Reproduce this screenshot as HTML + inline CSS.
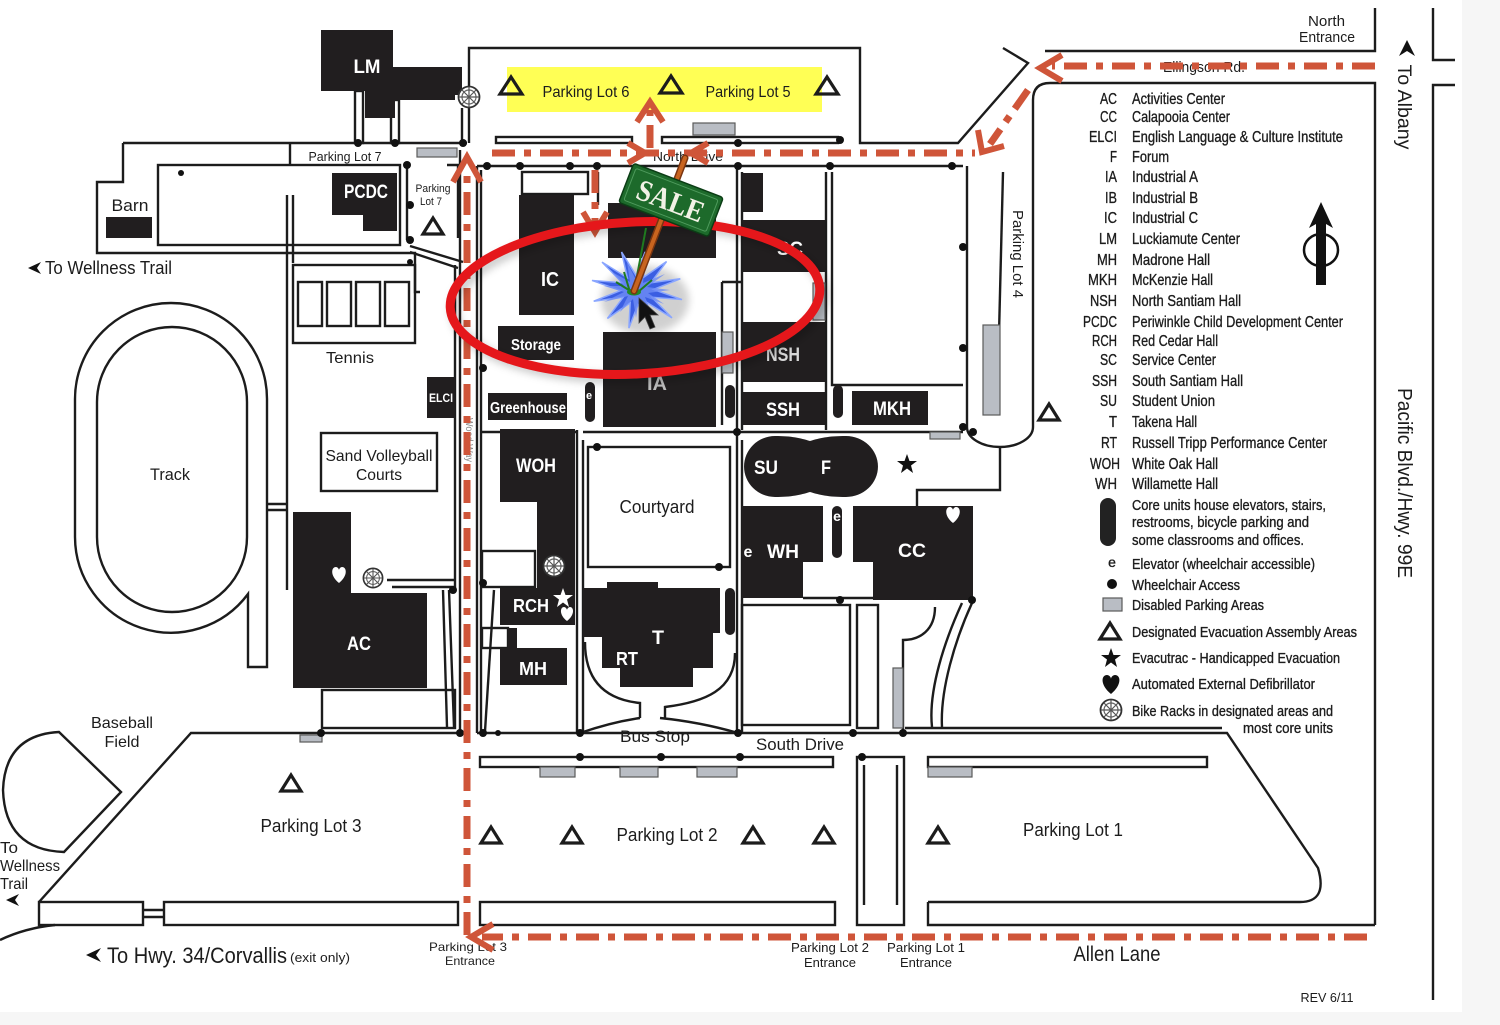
<!DOCTYPE html>
<html><head><meta charset="utf-8"><style>
html,body{margin:0;padding:0;background:#fff;}
svg{display:block;}
text{font-family:"Liberation Sans",Arial,sans-serif;}
.m{fill:#1c1c1c;}
.w{fill:#fff;font-weight:bold;}
.ln{stroke:#1c1c1c;stroke-width:2.4;fill:none;}
.bk{fill:#211e1f;}
.gr{fill:#b9bdc4;stroke:#5a5a5a;stroke-width:1.2;}
.tri{fill:none;stroke:#1c1c1c;stroke-width:3.2;stroke-linejoin:miter;}
.rd{stroke:#cf5539;stroke-width:7;fill:none;stroke-dasharray:23 9 7 9;}
.ra{stroke:#cf5539;stroke-width:6;fill:none;stroke-linejoin:miter;}
.lg text{stroke:#1c1c1c;stroke-width:0.35;}
</style></head><body>
<svg width="1500" height="1025" viewBox="0 0 1500 1025" xmlns="http://www.w3.org/2000/svg">
<defs>
<filter id="blur" x="-30%" y="-30%" width="160%" height="160%"><feGaussianBlur stdDeviation="4"/></filter>
<symbol id="bike" viewBox="-12 -12 24 24"><circle r="10.5" fill="#fff" stroke="#333" stroke-width="1.8"/><circle r="7" fill="none" stroke="#666" stroke-width="1.2"/><path d="M-10,0H10M0,-10V10M-7,-7L7,7M-7,7L7,-7" stroke="#555" stroke-width="1.2"/></symbol>
</defs>
<rect width="1500" height="1025" fill="#fff"/>
<rect x="1462" y="0" width="38" height="1025" fill="#f6f6f6"/>
<rect x="0" y="1012" width="1500" height="13" fill="#f6f6f6"/>

<g class="ln">
<path d="M123,143 H467"/>
<path d="M123,143 V182 H97 V253 H415 V292 H420"/>
<path d="M290,143 V165"/>
<rect x="158" y="165" width="242" height="80"/>
<path d="M407,165 V240"/>
<path d="M410,246 L463,262 M410,252 L458,268"/>
<path d="M447,165 H458 V238"/>
<path d="M287,195 V590 M293,195 V263"/>
<rect x="293" y="265" width="122" height="78"/>
<rect x="298" y="282" width="24" height="44"/>
<rect x="327" y="282" width="24" height="44"/>
<rect x="356" y="282" width="24" height="44"/>
<rect x="385" y="282" width="24" height="44"/>
<rect x="355" y="91" width="8" height="52" fill="#fff"/>
<rect x="391" y="100" width="8" height="43" fill="#fff"/>
<path d="M462,108 V143"/>
<path d="M460,150 V733"/>
<path d="M477,166 V733"/>
<path d="M455,265 V590"/>
<path d="M248,594 A96,96 0 0 1 75,537 V399 A96,96 0 0 1 267,399 V667 H248 Z"/>
<path d="M97,402 A75,75 0 0 1 247,402 V537 A75,75 0 0 1 97,537 Z"/>
<path d="M267,504 H287 M267,510 H287"/>
<rect x="321" y="433" width="116" height="58"/>
<path d="M387,580 H455 M392,587 H455"/>
<path d="M449,590 L454,727 M443,590 L447,727"/>
<rect x="322" y="690" width="133" height="38"/>
<path d="M59,732 L121,792 L64,852 Q5,850 3,790 Q5,735 59,732 Z"/>
<path d="M462,733 H191 L39,902"/>
<rect x="39" y="902" width="104" height="23"/>
<rect x="164" y="902" width="294" height="23"/>
<path d="M143,910 H164 M143,917 H164"/>
<path d="M0,940 Q25,928 55,925"/>
<path d="M469,143 V48 H860 V143 H958 L1028,63 L1003,48"/>
<rect x="496" y="137" width="136" height="6"/>
<rect x="662" y="137" width="176" height="6"/>
<path d="M477,166 H963"/>
<rect x="522" y="172" width="66" height="22"/>
<path d="M481,170 V733"/>
<path d="M598,172 V205"/>
<path d="M577,430 V733 M583,440 V733"/>
<path d="M737,166 V733 M742,172 V430"/>
<path d="M826,172 V430 M832,172 V385 H963"/>
<path d="M722,282 H742 M722,282 V425"/>
<path d="M481,432 H577 M583,432 H963"/>
<path d="M742,440 V733"/>
<rect x="588" y="447" width="142" height="120"/>
<rect x="482" y="551" width="53" height="36"/>
<rect x="482" y="628" width="26" height="20"/>
<path d="M494,590 L485,731"/>
<rect x="742" y="605" width="108" height="120"/>
<rect x="857" y="605" width="21" height="123"/>
<path d="M803,598 H873"/>
<path d="M585,642 C585,685 610,700 640,703 V718 M735,653 C735,690 705,702 665,707 V718"/>
<path d="M580,733 Q612,722 640,718 M738,733 Q700,722 660,718"/>
<path d="M477,733 H905"/>
<path d="M905,728 H1222 M905,733 H1227 L1318,868 Q1328,902 1300,902 H928"/>
<rect x="480" y="757" width="353" height="10"/>
<rect x="480" y="902" width="355" height="23"/>
<rect x="857" y="757" width="47" height="168"/>
<path d="M864,765 V905 M897,765 V905"/>
<rect x="928" y="757" width="279" height="10"/>
<path d="M928,902 V925 H1375"/>
<path d="M962,603 C945,640 928,690 932,727 M972,603 C955,640 940,690 942,727"/>
<path d="M935,607 C935,630 920,640 903,640 V733"/>
<path d="M1045,51 H1375 V8"/>
<path d="M1050,83 H1375 V925"/>
<path d="M1050,83 Q1033,83 1033,100 V427 A33,20 0 0 1 967,427 V166"/>
<path d="M1000,447 V490 H917 V506"/>
<path d="M1003,172 L997,415"/>
<path d="M1433,8 V60 H1455 M1455,85 H1433 V1000"/>
</g>

<g class="gr">
<rect x="693" y="123" width="42" height="12"/>
<rect x="417" y="148" width="40" height="9"/>
<rect x="300" y="735" width="22" height="7"/>
<rect x="540" y="767" width="35" height="10"/>
<rect x="620" y="767" width="38" height="10"/>
<rect x="697" y="767" width="40" height="10"/>
<rect x="928" y="767" width="44" height="10"/>
<rect x="930" y="432" width="30" height="7"/>
<rect x="983" y="325" width="17" height="90"/>
<rect x="813" y="283" width="12" height="37"/>
<rect x="893" y="668" width="10" height="60"/>
<rect x="722" y="332" width="11" height="41"/>
<rect x="1103" y="598" width="19" height="13"/>
</g>

<g class="bk">
<path d="M321,30 H393 V67 H462 V95 H455 V100 H395 V118 H365 V91 H321 Z"/>
<path d="M332,173 H397 V231 H363 V215 H332 Z"/>
<rect x="106" y="217" width="46" height="21"/>
<rect x="427" y="377" width="28" height="41"/>
<path d="M293,512 H351 V593 H427 V688 H293 Z"/>
<rect x="519" y="195" width="55" height="120"/>
<rect x="498" y="326" width="76" height="34"/>
<rect x="488" y="393" width="79" height="27"/>
<rect x="608" y="203" width="108" height="55"/>
<rect x="603" y="332" width="113" height="95"/>
<rect x="743" y="220" width="82" height="52"/>
<rect x="743" y="173" width="20" height="39"/>
<rect x="743" y="322" width="82" height="60"/>
<rect x="743" y="392" width="82" height="33"/>
<rect x="852" y="391" width="76" height="34"/>
<rect x="725" y="385" width="10" height="33" rx="5"/>
<rect x="833" y="385" width="10" height="33" rx="5"/>
<rect x="585" y="382" width="10" height="40" rx="5"/>
<path d="M500,429 H575 V625 H500 V588 H537 V502 H500 Z"/>
<rect x="500" y="648" width="67" height="37"/>
<rect x="508" y="628" width="9" height="20"/>
<path d="M775,436 C792,436 800,438 810,441 C820,438 828,436 846,436 A32,30.5 0 0 1 846,497 C828,497 820,495 810,492 C800,495 792,497 775,497 A31,30.5 0 0 1 775,436 Z"/>
<path d="M742,506 H823 V562 H803 V598 H742 Z"/>
<rect x="832" y="506" width="10" height="52" rx="5"/>
<path d="M853,506 H973 V600 H873 V562 H853 Z"/>
<path d="M583,588 H607 V582 H658 V588 H720 V633 H713 V668 H693 V687 H620 V668 H602 V637 H583 Z"/>
<rect x="725" y="588" width="10" height="47" rx="5"/>
</g>

<g fill="#111">
<circle cx="463" cy="143" r="4"/><circle cx="358" cy="143" r="4"/><circle cx="395" cy="143" r="4"/>
<circle cx="407" cy="165" r="4"/><circle cx="410" cy="205" r="4"/><circle cx="410" cy="240" r="4"/>
<circle cx="487" cy="166" r="4"/><circle cx="520" cy="166" r="4"/><circle cx="570" cy="166" r="4"/>
<circle cx="597" cy="166" r="4"/><circle cx="738" cy="143" r="4"/><circle cx="738" cy="166" r="4"/>
<circle cx="840" cy="140" r="4"/><circle cx="830" cy="166" r="4"/><circle cx="952" cy="166" r="4"/>
<circle cx="963" cy="247" r="4"/><circle cx="963" cy="348" r="4"/><circle cx="963" cy="427" r="4"/>
<circle cx="973" cy="432" r="4"/><circle cx="483" cy="368" r="4"/><circle cx="483" cy="583" r="4"/>
<circle cx="483" cy="733" r="4"/><circle cx="580" cy="733" r="4"/><circle cx="738" cy="733" r="4"/>
<circle cx="853" cy="733" r="4"/><circle cx="903" cy="733" r="4"/><circle cx="580" cy="757" r="4"/>
<circle cx="661" cy="757" r="4"/><circle cx="740" cy="757" r="4"/><circle cx="862" cy="757" r="4"/>
<circle cx="597" cy="447" r="4"/><circle cx="719" cy="567" r="4"/><circle cx="737" cy="432" r="4"/>
<circle cx="453" cy="590" r="4"/><circle cx="840" cy="600" r="4"/><circle cx="972" cy="600" r="4"/>
<circle cx="321" cy="733" r="4"/><circle cx="460" cy="733" r="4"/><circle cx="498" cy="733" r="3"/>
<circle cx="181" cy="173" r="3"/><circle cx="410" cy="262" r="3"/>
</g>

<g class="tri">
<path d="M423,234 L433,218 L443,234 Z"/><path d="M1039,420 L1049,404 L1059,420 Z"/>
<path d="M281,791 L291,775 L301,791 Z"/><path d="M481,843 L491,827 L501,843 Z"/>
<path d="M562,843 L572,827 L582,843 Z"/><path d="M743,843 L753,827 L763,843 Z"/>
<path d="M814,843 L824,827 L834,843 Z"/><path d="M928,843 L938,827 L948,843 Z"/>
<path d="M1100,639 L1110,623 L1120,639 Z"/>
</g>

<rect x="507" y="67" width="315" height="45" fill="#ffff55"/>
<g class="tri">
<path d="M500,94 L511,77 L522,94 Z"/><path d="M660,93 L671,76 L682,93 Z"/><path d="M816,94 L827,77 L838,94 Z"/>
</g>

<use href="#bike" x="457" y="85" width="24" height="24"/>
<use href="#bike" x="362" y="567" width="22" height="22"/>
<use href="#bike" x="542" y="554" width="24" height="24"/>
<use href="#bike" x="1099" y="698" width="24" height="24"/>

<g>
<path d="M907,454 L909.5,461 L917,461 L911,465.5 L913,473 L907,468.5 L901,473 L903,465.5 L897,461 L904.5,461 Z" fill="#111"/>
<path d="M1111,648 L1113.5,655 L1121,655 L1115,659.5 L1117,667 L1111,662.5 L1105,667 L1107,659.5 L1101,655 L1108.5,655 Z" fill="#111"/>
<path d="M563,588 L565.5,595 L573,595 L567,599.5 L569,607 L563,602.5 L557,607 L559,599.5 L553,595 L560.5,595 Z" fill="#fff"/>
<path d="M1111,694 C1100,685 1101,675 1107,675 C1109,675 1111,677 1111,679 C1111,677 1113,675 1115,675 C1121,675 1122,685 1111,694 Z" fill="#111"/>
<path d="M339,583 C330,576 331,567 336,567 C337.5,567 339,569 339,570 C339,569 340.5,567 342,567 C347,567 348,576 339,583 Z" fill="#fff"/>
<path d="M953,523 C944,516 945,507 950,507 C951.5,507 953,509 953,510 C953,509 954.5,507 956,507 C961,507 962,516 953,523 Z" fill="#fff"/>
<path d="M567,621 C559,615 560,607 564,607 C565.5,607 567,609 567,610 C567,609 568.5,607 570,607 C574,607 575,615 567,621 Z" fill="#fff"/>
</g>

<g class="m">
<text x="130" y="211" font-size="17" text-anchor="middle" textLength="37" lengthAdjust="spacingAndGlyphs">Barn</text>
<text x="345" y="161" font-size="13" text-anchor="middle" textLength="73" lengthAdjust="spacingAndGlyphs">Parking Lot 7</text>
<text x="433" y="192" font-size="11" text-anchor="middle" textLength="35" lengthAdjust="spacingAndGlyphs">Parking</text>
<text x="431" y="205" font-size="11" text-anchor="middle" textLength="22" lengthAdjust="spacingAndGlyphs">Lot 7</text>
<path d="M28,268 L41,262 L37,268 L41,274 Z" fill="#111"/>
<text x="45" y="274" font-size="18" textLength="127" lengthAdjust="spacingAndGlyphs">To Wellness Trail</text>
<text x="350" y="363" font-size="16" text-anchor="middle" textLength="48" lengthAdjust="spacingAndGlyphs">Tennis</text>
<text x="170" y="480" font-size="17" text-anchor="middle" textLength="40" lengthAdjust="spacingAndGlyphs">Track</text>
<text x="379" y="461" font-size="16" text-anchor="middle" textLength="107" lengthAdjust="spacingAndGlyphs">Sand Volleyball</text>
<text x="379" y="480" font-size="16" text-anchor="middle" textLength="46" lengthAdjust="spacingAndGlyphs">Courts</text>
<text x="122" y="728" font-size="16" text-anchor="middle" textLength="62" lengthAdjust="spacingAndGlyphs">Baseball</text>
<text x="122" y="747" font-size="16" text-anchor="middle" textLength="35" lengthAdjust="spacingAndGlyphs">Field</text>
<text x="0" y="853" font-size="16" textLength="18" lengthAdjust="spacingAndGlyphs">To</text>
<text x="0" y="871" font-size="16" textLength="60" lengthAdjust="spacingAndGlyphs">Wellness</text>
<text x="0" y="889" font-size="16" textLength="28" lengthAdjust="spacingAndGlyphs">Trail</text>
<path d="M6,900 L19,894 L15,900 L19,906 Z" fill="#111"/>
<text x="311" y="832" font-size="18" text-anchor="middle" textLength="101" lengthAdjust="spacingAndGlyphs">Parking Lot 3</text>
<path d="M86,955 L101,948 L96,955 L101,962 Z" fill="#111"/>
<text x="107" y="963" font-size="22" textLength="180" lengthAdjust="spacingAndGlyphs">To Hwy. 34/Corvallis</text>
<text x="290" y="962" font-size="13" textLength="60" lengthAdjust="spacingAndGlyphs">(exit only)</text>
<text x="468" y="951" font-size="12" text-anchor="middle" textLength="78" lengthAdjust="spacingAndGlyphs">Parking Lot 3</text>
<text x="470" y="965" font-size="12" text-anchor="middle" textLength="50" lengthAdjust="spacingAndGlyphs">Entrance</text>
<text x="586" y="97" font-size="16" text-anchor="middle" textLength="87" lengthAdjust="spacingAndGlyphs">Parking Lot 6</text>
<text x="748" y="97" font-size="16" text-anchor="middle" textLength="85" lengthAdjust="spacingAndGlyphs">Parking Lot 5</text>
<text x="688" y="161" font-size="13" text-anchor="middle" textLength="70" lengthAdjust="spacingAndGlyphs">North Drive</text>
<text x="657" y="513" font-size="18" text-anchor="middle" textLength="75" lengthAdjust="spacingAndGlyphs">Courtyard</text>
<text x="655" y="742" font-size="17" text-anchor="middle" textLength="70" lengthAdjust="spacingAndGlyphs">Bus Stop</text>
<text x="800" y="750" font-size="17" text-anchor="middle" textLength="88" lengthAdjust="spacingAndGlyphs">South Drive</text>
<text x="667" y="841" font-size="18" text-anchor="middle" textLength="101" lengthAdjust="spacingAndGlyphs">Parking Lot 2</text>
<text x="1073" y="836" font-size="18" text-anchor="middle" textLength="100" lengthAdjust="spacingAndGlyphs">Parking Lot 1</text>
<text x="830" y="952" font-size="13" text-anchor="middle" textLength="78" lengthAdjust="spacingAndGlyphs">Parking Lot 2</text>
<text x="830" y="967" font-size="13" text-anchor="middle" textLength="52" lengthAdjust="spacingAndGlyphs">Entrance</text>
<text x="926" y="952" font-size="13" text-anchor="middle" textLength="78" lengthAdjust="spacingAndGlyphs">Parking Lot 1</text>
<text x="926" y="967" font-size="13" text-anchor="middle" textLength="52" lengthAdjust="spacingAndGlyphs">Entrance</text>
<text x="1117" y="961" font-size="21" text-anchor="middle" textLength="87" lengthAdjust="spacingAndGlyphs">Allen Lane</text>
<text x="1327" y="1002" font-size="13" text-anchor="middle" textLength="53" lengthAdjust="spacingAndGlyphs">REV 6/11</text>
<text x="1345" y="26" font-size="15" text-anchor="end" textLength="37" lengthAdjust="spacingAndGlyphs">North</text>
<text x="1355" y="42" font-size="15" text-anchor="end" textLength="56" lengthAdjust="spacingAndGlyphs">Entrance</text>
<text x="1204" y="72" font-size="15" text-anchor="middle" textLength="82" lengthAdjust="spacingAndGlyphs">Ellingson Rd.</text>
<text transform="translate(1013,254) rotate(90)" font-size="15" text-anchor="middle" textLength="88" lengthAdjust="spacingAndGlyphs">Parking Lot 4</text>
<text transform="translate(1398,107) rotate(90)" font-size="19" text-anchor="middle" textLength="85" lengthAdjust="spacingAndGlyphs">To Albany</text>
<path d="M1407,40 L1399,56 L1407,51 L1415,56 Z" fill="#111"/>
<text transform="translate(1398,483) rotate(90)" font-size="20" text-anchor="middle" textLength="190" lengthAdjust="spacingAndGlyphs">Pacific Blvd./Hwy. 99E</text>
<text transform="translate(466,440) rotate(90)" font-size="10" text-anchor="middle" fill="#888" textLength="44" lengthAdjust="spacingAndGlyphs">Wood Way</text>
</g>

<g class="w">
<text x="367" y="73" font-size="19" text-anchor="middle" textLength="27" lengthAdjust="spacingAndGlyphs">LM</text>
<text x="366" y="198" font-size="19" text-anchor="middle" textLength="44" lengthAdjust="spacingAndGlyphs">PCDC</text>
<text x="441" y="402" font-size="12" text-anchor="middle" textLength="24" lengthAdjust="spacingAndGlyphs">ELCI</text>
<text x="359" y="650" font-size="19" text-anchor="middle" textLength="24" lengthAdjust="spacingAndGlyphs">AC</text>
<text x="550" y="286" font-size="20" text-anchor="middle" textLength="18" lengthAdjust="spacingAndGlyphs">IC</text>
<text x="536" y="350" font-size="16" text-anchor="middle" textLength="50" lengthAdjust="spacingAndGlyphs">Storage</text>
<text x="528" y="413" font-size="16" text-anchor="middle" textLength="76" lengthAdjust="spacingAndGlyphs">Greenhouse</text>
<text x="790" y="255" font-size="19" text-anchor="middle" textLength="26" lengthAdjust="spacingAndGlyphs">SC</text>
<text x="657" y="390" font-size="19" text-anchor="middle" textLength="20" lengthAdjust="spacingAndGlyphs" style="fill:#bdbdbd">IA</text>
<text x="783" y="361" font-size="19" text-anchor="middle" textLength="34" lengthAdjust="spacingAndGlyphs" style="fill:#d8d8d8">NSH</text>
<text x="783" y="416" font-size="19" text-anchor="middle" textLength="34" lengthAdjust="spacingAndGlyphs">SSH</text>
<text x="892" y="415" font-size="19" text-anchor="middle" textLength="38" lengthAdjust="spacingAndGlyphs">MKH</text>
<text x="589" y="399" font-size="11" text-anchor="middle">e</text>
<text x="536" y="472" font-size="19" text-anchor="middle" textLength="40" lengthAdjust="spacingAndGlyphs">WOH</text>
<text x="531" y="612" font-size="18" text-anchor="middle" textLength="36" lengthAdjust="spacingAndGlyphs">RCH</text>
<text x="533" y="675" font-size="18" text-anchor="middle" textLength="28" lengthAdjust="spacingAndGlyphs">MH</text>
<text x="658" y="644" font-size="19" text-anchor="middle" textLength="12" lengthAdjust="spacingAndGlyphs">T</text>
<text x="627" y="665" font-size="18" text-anchor="middle" textLength="22" lengthAdjust="spacingAndGlyphs">RT</text>
<text x="766" y="474" font-size="19" text-anchor="middle" textLength="24" lengthAdjust="spacingAndGlyphs">SU</text>
<text x="826" y="474" font-size="19" text-anchor="middle" textLength="10" lengthAdjust="spacingAndGlyphs">F</text>
<text x="748" y="557" font-size="16" text-anchor="middle">e</text>
<text x="783" y="558" font-size="19" text-anchor="middle" textLength="32" lengthAdjust="spacingAndGlyphs">WH</text>
<text x="837" y="521" font-size="14" text-anchor="middle">e</text>
<text x="912" y="557" font-size="19" text-anchor="middle" textLength="28" lengthAdjust="spacingAndGlyphs">CC</text>
</g>

<g class="m lg" font-size="16">
<g text-anchor="end">
<text x="1117" y="104" textLength="17" lengthAdjust="spacingAndGlyphs">AC</text>
<text x="1117" y="122" textLength="17" lengthAdjust="spacingAndGlyphs">CC</text>
<text x="1117" y="142" textLength="28" lengthAdjust="spacingAndGlyphs">ELCI</text>
<text x="1117" y="162" textLength="7" lengthAdjust="spacingAndGlyphs">F</text>
<text x="1117" y="182" textLength="12" lengthAdjust="spacingAndGlyphs">IA</text>
<text x="1117" y="203" textLength="12" lengthAdjust="spacingAndGlyphs">IB</text>
<text x="1117" y="223" textLength="13" lengthAdjust="spacingAndGlyphs">IC</text>
<text x="1117" y="244" textLength="18" lengthAdjust="spacingAndGlyphs">LM</text>
<text x="1117" y="265" textLength="20" lengthAdjust="spacingAndGlyphs">MH</text>
<text x="1117" y="285" textLength="29" lengthAdjust="spacingAndGlyphs">MKH</text>
<text x="1117" y="306" textLength="27" lengthAdjust="spacingAndGlyphs">NSH</text>
<text x="1117" y="327" textLength="34" lengthAdjust="spacingAndGlyphs">PCDC</text>
<text x="1117" y="346" textLength="25" lengthAdjust="spacingAndGlyphs">RCH</text>
<text x="1117" y="365" textLength="17" lengthAdjust="spacingAndGlyphs">SC</text>
<text x="1117" y="386" textLength="25" lengthAdjust="spacingAndGlyphs">SSH</text>
<text x="1117" y="406" textLength="17" lengthAdjust="spacingAndGlyphs">SU</text>
<text x="1117" y="427" textLength="8" lengthAdjust="spacingAndGlyphs">T</text>
<text x="1117" y="448" textLength="16" lengthAdjust="spacingAndGlyphs">RT</text>
<text x="1120" y="469" textLength="30" lengthAdjust="spacingAndGlyphs">WOH</text>
<text x="1117" y="489" textLength="22" lengthAdjust="spacingAndGlyphs">WH</text>
</g>
<text x="1132" y="104" textLength="93" lengthAdjust="spacingAndGlyphs">Activities Center</text>
<text x="1132" y="122" textLength="98" lengthAdjust="spacingAndGlyphs">Calapooia Center</text>
<text x="1132" y="142" textLength="211" lengthAdjust="spacingAndGlyphs">English Language &amp; Culture Institute</text>
<text x="1132" y="162" textLength="37" lengthAdjust="spacingAndGlyphs">Forum</text>
<text x="1132" y="182" textLength="66" lengthAdjust="spacingAndGlyphs">Industrial A</text>
<text x="1132" y="203" textLength="66" lengthAdjust="spacingAndGlyphs">Industrial B</text>
<text x="1132" y="223" textLength="66" lengthAdjust="spacingAndGlyphs">Industrial C</text>
<text x="1132" y="244" textLength="108" lengthAdjust="spacingAndGlyphs">Luckiamute Center</text>
<text x="1132" y="265" textLength="78" lengthAdjust="spacingAndGlyphs">Madrone Hall</text>
<text x="1132" y="285" textLength="81" lengthAdjust="spacingAndGlyphs">McKenzie Hall</text>
<text x="1132" y="306" textLength="109" lengthAdjust="spacingAndGlyphs">North Santiam Hall</text>
<text x="1132" y="327" textLength="211" lengthAdjust="spacingAndGlyphs">Periwinkle Child Development Center</text>
<text x="1132" y="346" textLength="86" lengthAdjust="spacingAndGlyphs">Red Cedar Hall</text>
<text x="1132" y="365" textLength="84" lengthAdjust="spacingAndGlyphs">Service Center</text>
<text x="1132" y="386" textLength="111" lengthAdjust="spacingAndGlyphs">South Santiam Hall</text>
<text x="1132" y="406" textLength="83" lengthAdjust="spacingAndGlyphs">Student Union</text>
<text x="1132" y="427" textLength="65" lengthAdjust="spacingAndGlyphs">Takena Hall</text>
<text x="1132" y="448" textLength="195" lengthAdjust="spacingAndGlyphs">Russell Tripp Performance Center</text>
<text x="1132" y="469" textLength="86" lengthAdjust="spacingAndGlyphs">White Oak Hall</text>
<text x="1132" y="489" textLength="86" lengthAdjust="spacingAndGlyphs">Willamette Hall</text>
<g font-size="15">
<text x="1132" y="510" textLength="194" lengthAdjust="spacingAndGlyphs">Core units house elevators, stairs,</text>
<text x="1132" y="527" textLength="177" lengthAdjust="spacingAndGlyphs">restrooms, bicycle parking and</text>
<text x="1132" y="545" textLength="172" lengthAdjust="spacingAndGlyphs">some classrooms and offices.</text>
<text x="1132" y="569" textLength="183" lengthAdjust="spacingAndGlyphs">Elevator (wheelchair accessible)</text>
<text x="1132" y="590" textLength="108" lengthAdjust="spacingAndGlyphs">Wheelchair Access</text>
<text x="1132" y="610" textLength="132" lengthAdjust="spacingAndGlyphs">Disabled Parking Areas</text>
<text x="1132" y="637" textLength="225" lengthAdjust="spacingAndGlyphs">Designated Evacuation Assembly Areas</text>
<text x="1132" y="663" textLength="208" lengthAdjust="spacingAndGlyphs">Evacutrac - Handicapped Evacuation</text>
<text x="1132" y="689" textLength="183" lengthAdjust="spacingAndGlyphs">Automated External Defibrillator</text>
<text x="1132" y="716" textLength="201" lengthAdjust="spacingAndGlyphs">Bike Racks in designated areas and</text>
<text x="1333" y="733" text-anchor="end" textLength="90" lengthAdjust="spacingAndGlyphs">most core units</text>
<text x="1112" y="567" text-anchor="middle" font-size="14">e</text>
</g>
</g>
<rect x="1100" y="498" width="16" height="48" rx="8" fill="#222"/>
<circle cx="1112" cy="584" r="5" fill="#111"/>
<rect x="1316" y="218" width="10" height="67" fill="#111"/>
<path d="M1321,202 L1309,228 L1316,224 L1326,224 L1333,228 Z" fill="#111"/>
<ellipse cx="1321" cy="250" rx="17" ry="16" fill="none" stroke="#111" stroke-width="2.5"/>

<g>
<path class="rd" d="M1375,66 H1052"/>
<path class="ra" d="M1062,55 L1040,68 L1062,81"/>
<path class="rd" d="M1028,90 L990,144"/>
<path class="ra" d="M978,130 L982,152 L1004,146"/>
<path class="rd" d="M492,153 H975"/>
<path class="rd" d="M467,935 V168"/>
<path class="ra" d="M453,182 L467,157 L481,182"/>
<path class="rd" d="M1367,937 H482"/>
<path class="ra" d="M493,924 L471,937 L493,950"/>
<path class="rd" d="M650,148 V110" stroke-dasharray="12 6"/>
<path class="ra" d="M637,122 L650,102 L663,122"/>
<path class="ra" d="M628,143 L645,153 L628,163"/>
<path class="ra" d="M708,143 L691,153 L708,163"/>
<path class="rd" d="M595,170 V222" stroke-dasharray="14 8"/>
<path class="ra" d="M583,212 L595,232 L607,212"/>
</g>

<ellipse cx="639" cy="302" rx="185" ry="76" transform="rotate(-3 639 302)" fill="none" stroke="#000" stroke-opacity="0.2" stroke-width="10" filter="url(#blur)"/>
<ellipse cx="635" cy="298" rx="185" ry="76" transform="rotate(-3 635 298)" fill="none" stroke="#e5171b" stroke-width="9"/>

<g filter="url(#blur)" opacity="0.18"><ellipse cx="645" cy="300" rx="44" ry="34" fill="#000"/></g>
<polygon points="683,290 653,294 677,310 649,300 660,324 641,304 637,329 633,304 614,324 625,300 597,310 621,294 591,290 621,286 597,270 625,280 614,256 633,276 637,251 641,276 660,256 649,280 677,270 653,286" fill="#3b5ee2" stroke="#8aa6ff" stroke-width="1.5" transform="rotate(12 637 290)"/>
<polygon points="670,290 648,293 664,304 645,297 652,314 639,299 636,318 633,299 620,312 628,296 604,302 624,292 604,286 624,286 612,272 630,282 627,262 636,280 645,264 643,283 665,274 647,287" fill="#6f8cf5" opacity="0.8"/>
<path d="M634,292 L646,228 M630,292 L624,272 M636,290 L642,270 M632,292 L616,282 M638,292 L652,280" stroke="#1f7a1f" stroke-width="2" fill="none"/>
<ellipse cx="634" cy="292" rx="7" ry="3.5" fill="#1f8a2a"/>
<path d="M639,298 L639,323 L645,317 L650,329 L655,327 L650,315 L658,315 Z" fill="#111" stroke="#444" stroke-width="0.8"/>
<path d="M685,158 L634,291" stroke="#7a3510" stroke-width="7" stroke-linecap="round"/>
<path d="M685,158 L634,291" stroke="#c8641f" stroke-width="4" stroke-linecap="round"/>
<g transform="translate(671,200) rotate(21)">
<rect x="-48" y="-21" width="96" height="42" rx="3" fill="#1d6a2b" stroke="#0b3d15" stroke-width="1.5"/>
<rect x="-44" y="-17" width="88" height="34" rx="2" fill="none" stroke="#4e9a5c" stroke-width="1"/>
<text x="0" y="11" text-anchor="middle" font-size="30" font-weight="bold" fill="#f2f2e6" textLength="70" lengthAdjust="spacingAndGlyphs" style="font-family:'Liberation Serif',serif">SALE</text>
</g>
</svg>
</body></html>
